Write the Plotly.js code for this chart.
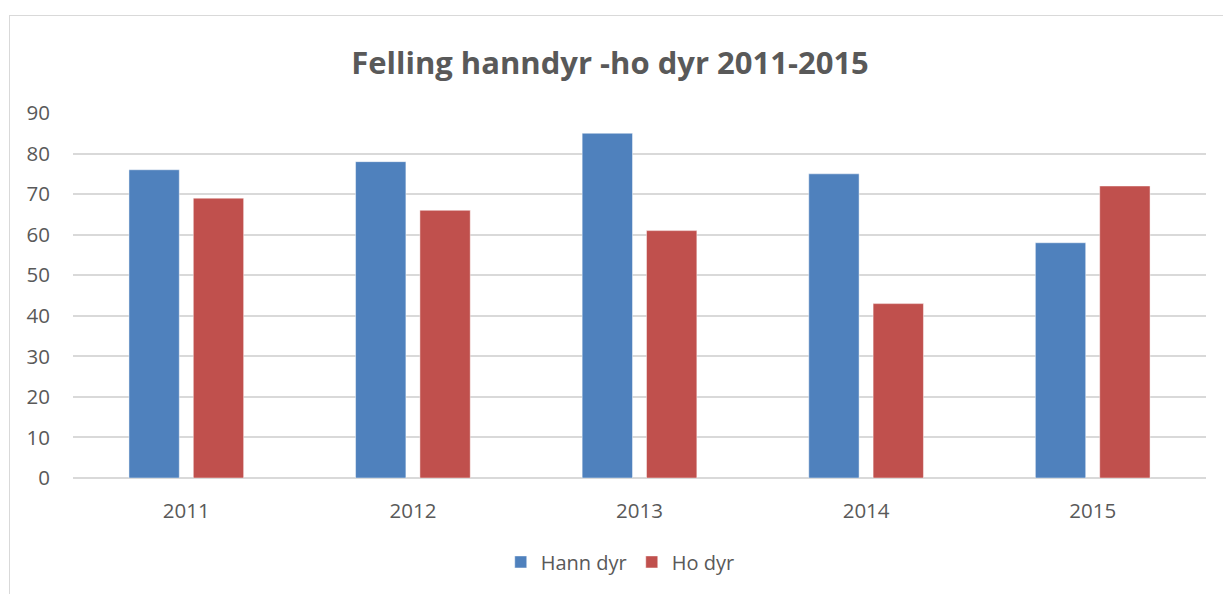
<!DOCTYPE html>
<html>
<head>
<meta charset="utf-8">
<script src="https://cdn.plot.ly/plotly-3.0.1.min.js"></script>
<style>
  html, body { margin: 0; padding: 0; background: #ffffff; overflow: hidden; }
  #frame { position: absolute; left: 9px; top: 15px; width: 1400px; height: 800px;
           border-left: 1.5px solid #d9d9d9; border-top: 1.5px solid #d9d9d9; }
  #chart { position: absolute; left: 0; top: 0; width: 1223px; height: 594px; }
</style>
</head>
<body>
<div id="frame"></div>
<div id="chart"></div>
<script>
const years = ['2011', '2012', '2013', '2014', '2015'];
const hannDyr = [76, 78, 85, 75, 58];
const hoDyr = [69, 66, 61, 43, 72];
const yTicks = [0, 10, 20, 30, 40, 50, 60, 70, 80, 90];

const textColor = '#595959';
const fontFamily = '"Open Sans", "Liberation Sans", sans-serif';

const traces = [
  {
    type: 'bar', name: 'Hann dyr', x: years, y: hannDyr,
    marker: { color: '#4f81bd', line: { color: 'rgba(255,255,255,0.45)', width: 1 } },
    hoverinfo: 'none'
  },
  {
    type: 'bar', name: 'Ho dyr', x: years, y: hoDyr,
    marker: { color: '#c0504d', line: { color: 'rgba(255,255,255,0.45)', width: 1 } },
    hoverinfo: 'none'
  }
];

const layout = {
  width: 1223, height: 594,
  paper_bgcolor: 'rgba(0,0,0,0)', plot_bgcolor: 'rgba(0,0,0,0)',
  margin: { l: 73, r: 17, t: 113, b: 114 },
  font: { family: fontFamily, color: textColor, size: 20 },
  title: {
    text: 'Felling hanndyr -ho dyr 2011-2015',
    font: { family: fontFamily, size: 31, color: textColor, weight: 'bold' },
    x: 0.4988, xref: 'container', xanchor: 'center',
    y: 0.893, yref: 'container', yanchor: 'middle'
  },
  barmode: 'group',
  bargap: 0.432,
  bargroupgap: 0.218,
  xaxis: {
    type: 'category', showgrid: false, zeroline: false, showline: false,
    ticks: '', ticklabelstandoff: 18,
    tickfont: { family: fontFamily, size: 20.5, color: textColor }
  },
  yaxis: {
    range: [0, 90], tickvals: yTicks, ticktext: yTicks.map(String),
    showgrid: true, gridcolor: '#d9d9d9', gridwidth: 2,
    zeroline: true, zerolinecolor: '#d9d9d9', zerolinewidth: 2,
    showline: false, ticks: '', ticklabelstandoff: 22,
    tickfont: { family: fontFamily, size: 20.5, color: textColor }
  },
  showlegend: true,
  legend: {
    orientation: 'h', x: 0.483, xanchor: 'center', y: -0.23, yanchor: 'middle',
    font: { family: fontFamily, size: 20, color: textColor },
    bgcolor: 'rgba(0,0,0,0)', traceorder: 'normal'
  }
};

Plotly.newPlot('chart', traces, layout, { staticPlot: true, displayModeBar: false });
</script>
</body>
</html>
